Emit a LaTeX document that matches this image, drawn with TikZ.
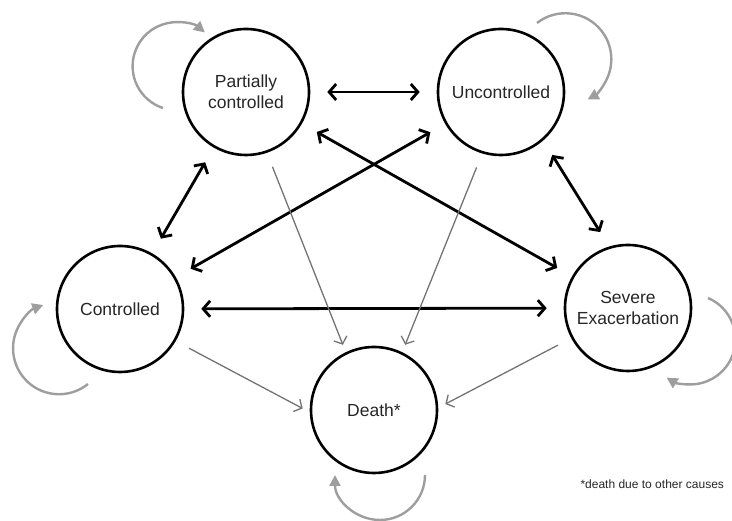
\documentclass[tikz,border=0pt]{standalone}
\usepackage{fontspec}
\setmainfont{Liberation Sans}
\usetikzlibrary{arrows.meta}

\tikzset{
	state/.style = {draw, circle, line width = 2.6pt, minimum size = 126pt, inner sep = 0pt, align = center, text = black!85, font = \fontsize{17.5}{20.5}\selectfont},
	trans/.style = {line width = 2.8pt, {Straight Barb[length = 7pt, width = 16pt]}-{Straight Barb[length = 7pt, width = 16pt]}, shorten <= 17pt, shorten >= 17pt},
	die/.style = {line width = 1.3pt, draw = black!55, -{Straight Barb[length = 6pt, width = 14pt]}, shorten <= 15pt, shorten >= 8pt},
	stay/.style = {line width = 2.4pt, draw = black!38, -{Triangle[length = 11pt, width = 11pt]}}
}

\begin{document}
\begin{tikzpicture}[x = 1pt, y = 1pt]
	\useasboundingbox (0, 0) rectangle (732, 521);
	
	% states
	\node[state] (pc) at (246, 429) {Partially\\controlled};
	\node[state] (unc) at (501, 429) {Uncontrolled};
	\node[state] (ctrl) at (120, 212) {Controlled};
	\node[state] (sev) at (628, 213) {Severe\\Exacerbation};
	\node[state] (death) at (374, 111) {Death*};
	
	% transitions
	\draw[trans] (pc) -- (unc);
	\draw[trans] (pc) -- (ctrl);
	\draw[trans] (unc) -- (ctrl);
	\draw[trans] (pc) -- (sev);
	\draw[trans] (unc.-49) -- (sev.107);
	\draw[trans] (ctrl) -- (sev);
	
	% deaths
	\draw[die] (pc.-71) -- (death.116);
	\draw[die] (unc.-107) -- (death.64);
	\draw[die] (ctrl.-30) -- (death.182);
	\draw[die] (sev.208) -- (death.2);
	
	% staying in the same state
	\draw[stay] ([shift = {(-83, -16)}]pc.center) arc[start angle = 252, end angle = 50, radius = 44pt];
	\draw[stay] ([shift = {(36, 69)}]unc.center) arc[start angle = 128, end angle = -61, radius = 46pt];
	\draw[stay] ([shift = {(-32, -75)}]ctrl.center) arc[start angle = -51, end angle = -250, radius = 46pt];
	\draw[stay] ([shift = {(80, 10)}]sev.center) arc[start angle = 67, end angle = -122, radius = 45pt];
	\draw[stay] ([shift = {(51, -65)}]death.center) arc[start angle = 0, end angle = -180, radius = 45pt];
	
	% note
	\node[anchor = west, text = black!85, font = \fontsize{12}{14}\selectfont] (note) at (577, 37) {*death due to other causes};
	
\end{tikzpicture}
\end{document}
